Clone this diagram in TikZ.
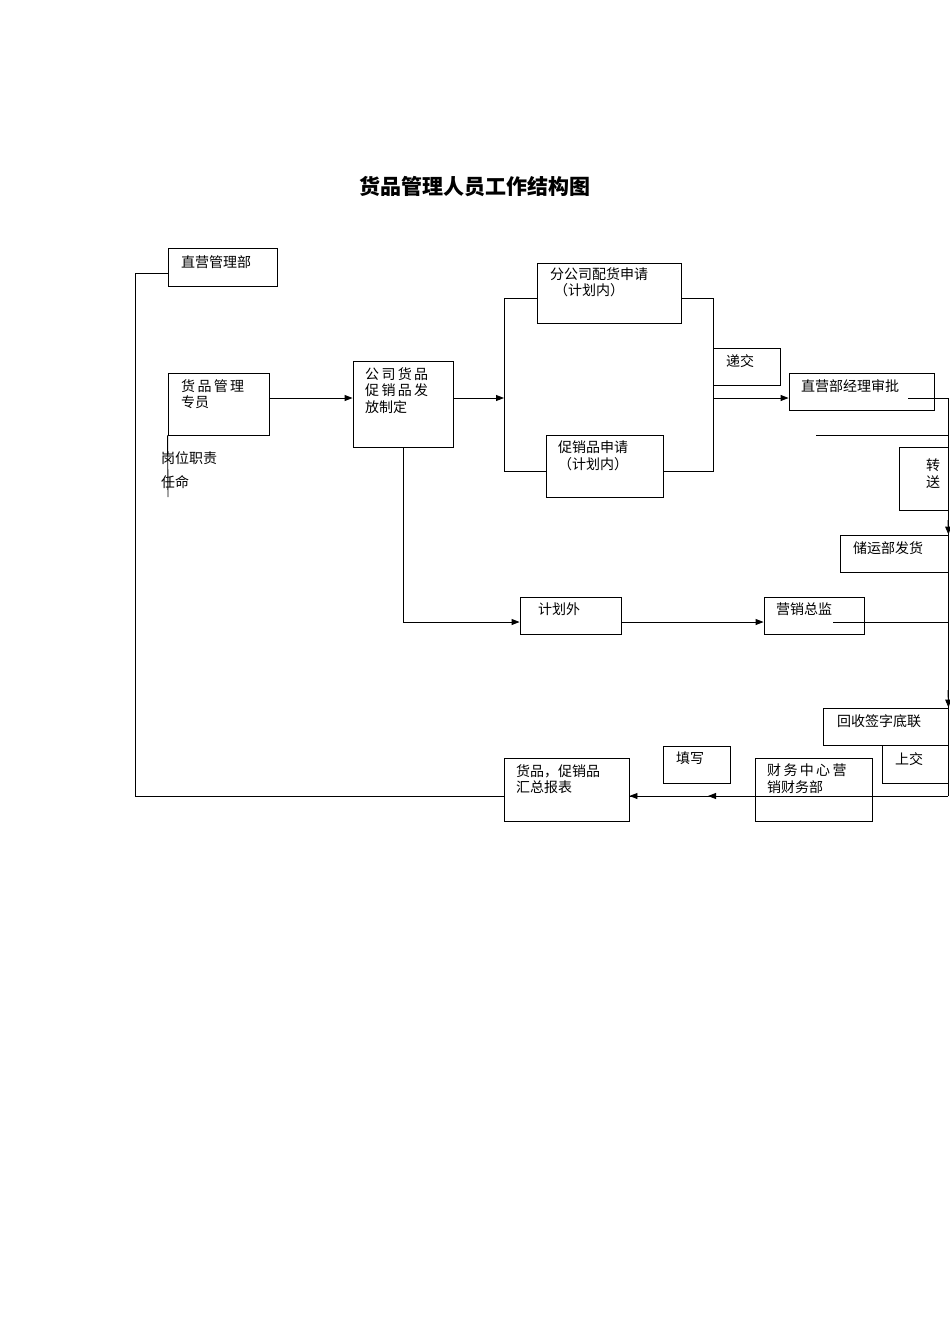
\documentclass[tikz,border=0pt]{standalone}
\usepackage{fontspec}
\setmainfont{Noto Sans CJK SC}
\usetikzlibrary{fit,arrows.meta}
\begin{document}
\begin{tikzpicture}[x=1pt,y=-1pt,
  box/.style={draw,line width=0.9pt,inner sep=0pt},
  txt/.style={anchor=north west,inner sep=0pt,font=\fontsize{14}{16.5}\selectfont,align=left},
  ln/.style={line width=0.9pt},
  arr/.style={line width=0.9pt,-{Triangle[length=8pt,width=6pt]}}]
\useasboundingbox (0,0) rectangle (950,1344);
\node[font=\fontsize{21}{24}\selectfont\bfseries] (title) at (475,187) {货品管理人员工作结构图};
% boxes
\node[box,fit={(168,248)(277,286)}] (zy) {};
\node[box,fit={(168,373)(269,435)}] (hp) {};
\node[box,fit={(353,361)(453,447)}] (gs) {};
\node[box,fit={(537,263)(681,323)}] (fg) {};
\node[box,fit={(546,435)(663,497)}] (cx) {};
\node[box,fit={(713,348)(780,385)}] (dj) {};
\node[box,fit={(789,373)(934,410)}] (sp) {};
\node[box,fit={(899,447)(948,510)}] (zs) {};
\node[box,fit={(840,535)(948,572)}] (cy) {};
\node[box,fit={(520,597)(621,634)}] (jh) {};
\node[box,fit={(764,597)(864,634)}] (yx) {};
\node[box,fit={(823,708)(948,745)}] (hs) {};
\node[box,fit={(882,745)(948,783)}] (sj) {};
\node[box,fit={(755,758)(872,821)}] (cw) {};
\node[box,fit={(663,746)(730,783)}] (tx) {};
\node[box,fit={(504,758)(629,821)}] (hz) {};
% texts
\node[txt] at (181,255) {直营管理部};
\node[txt] at (181,379) {货\,品\,管\,理\\专员};
\node[txt] at (365,367) {公\,司\,货\,品\\促\,销\,品\,发\\放制定};
\node[txt] at (550,267) {分公司配货申请\\\hspace{4pt}（计划内）};
\node[txt] at (558,441) {促销品申请\\（计划内）};
\node[txt] at (726,354) {递交};
\node[txt] at (801,379) {直营部经理审批};
\node[txt] at (926,459) {转\\送};
\node[txt] at (853,541) {储运部发货};
\node[txt] at (538,603) {计划外};
\node[txt] at (776,603) {营销总监};
\node[txt] at (837,714) {回收签字底联};
\node[txt] at (895,752) {上交};
\node[txt] at (767,764) {财\,务\,中\,心\,营\\销财务部};
\node[txt] at (676,752) {填写};
\node[txt] at (516,764) {货品，促销品\\汇总报表};
\node[txt,font=\fontsize{14}{24}\selectfont] at (161,451) {岗位职责\\任命};
% connectors
\coordinate (c1) at (135,273);
\coordinate (c2) at (135,796);
\draw[ln] (zy.west |- c1) -- (c1) -- (c2) -- (hz.west |- c2);
\draw[ln] (hp.south west) -- (168,497);
\draw[arr] (hp.east |- 0,398) -- (gs.west |- 0,398);
\coordinate (bl) at (504,398);
\draw[arr] (gs.east |- bl) -- (bl);
\draw[ln] (fg.west |- 0,298) -- (504,298) -- (504,471) -- (cx.west |- 0,471);
\draw[ln] (fg.east |- 0,298) -- (713,298) -- (713,471) -- (cx.east |- 0,471);
\draw[arr] (713,398) -- (sp.west |- 0,398);
\draw[ln] (gs.south) -- (403,622);
\draw[arr] (403,622) -- (jh.west |- 0,622);
\draw[arr] (jh.east |- 0,622) -- (yx.west |- 0,622);
\draw[ln] (833,622) -- (948,622);
\draw[ln] (908,398) -- (948,398) -- (948,796);
\draw[ln] (816,435) -- (948,435);
\draw[arr] (948,520) -- (cy.north east);
\draw[arr] (948,690) -- (hs.north east);
\coordinate (m) at (708,796);
\draw[ln] (948,796) -- (hz.east |- m);
\draw[arr] (760,796) -- (m);
\draw[arr] (680,796) -- (hz.east |- m);
\end{tikzpicture}
\end{document}
